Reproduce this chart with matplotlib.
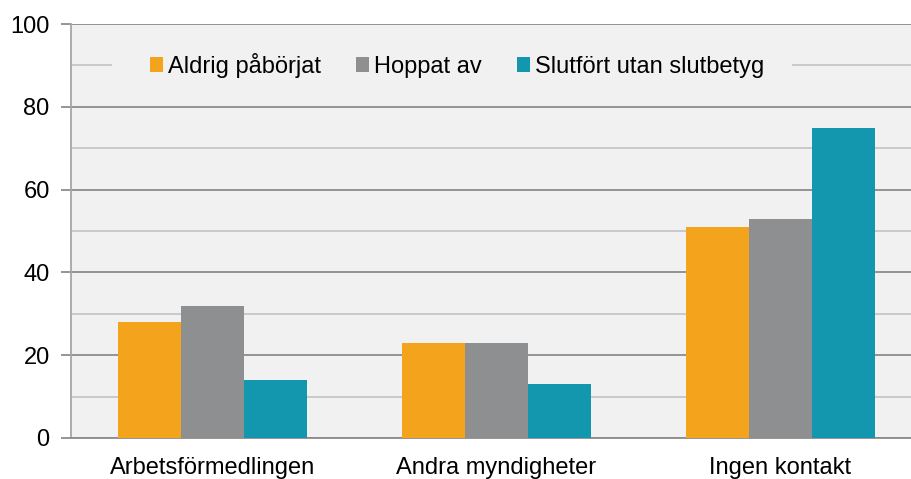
import numpy as np
import matplotlib.pyplot as plt

plt.rcParams['font.family'] = ['Liberation Sans', 'DejaVu Sans']

categories = ['Arbetsförmedlingen', 'Andra myndigheter', 'Ingen kontakt']
series = ['Aldrig påbörjat', 'Hoppat av', 'Slutfört utan slutbetyg']
aldrig = [28, 23, 51]
hoppat = [32, 23, 53]
slutfort = [14, 13, 75]
colors = ['#F4A41C', '#8E8F91', '#1297AF']

W, H = 912, 479
fig = plt.figure(figsize=(W / 100, H / 100), dpi=100)
# the plot area runs a little past the right edge of the picture
ax_left, ax_w = 70.5, 852
ax = fig.add_axes([ax_left / W, 41 / H, ax_w / W, 414 / H])
ax.set_facecolor('#F1F1F1')

x = np.arange(len(categories))
w = 0.222
for i, (vals, name) in enumerate(zip([aldrig, hoppat, slutfort], series)):
    ax.bar(x + (i - 1) * w, vals, w, color=colors[i], label=name, zorder=3)

ax.set_xlim(-0.5, 2.5)
ax.set_ylim(0, 100)
ax.set_yticks(range(0, 101, 20))
ax.set_yticks(range(10, 80, 20), minor=True)
ax.grid(axis='y', which='major', color='#8C8C8C', linewidth=1.3, zorder=1)
ax.grid(axis='y', which='minor', color='#C6C6C6', linewidth=1.3, zorder=1)
# the 90 line is broken by the legend box
ax.axhline(90, xmin=0, xmax=(111 - ax_left) / ax_w, color='#C6C6C6', linewidth=1.3, zorder=1)
ax.axhline(90, xmin=(793 - ax_left) / ax_w, xmax=1, color='#C6C6C6', linewidth=1.3, zorder=1)

ax.tick_params(axis='y', which='major', length=7, width=1.3, color='#8C8C8C', labelsize=17, pad=8)
ax.tick_params(axis='y', which='minor', length=0)
ax.tick_params(axis='x', length=0, labelsize=17, pad=14)
ax.set_xticks(x)
ax.set_xticklabels(categories)

for s in ['top', 'right']:
    ax.spines[s].set_visible(False)
ax.spines['left'].set_color('#A6A6A6')
ax.spines['left'].set_linewidth(1.3)
ax.spines['bottom'].set_color('#8C8C8C')
ax.spines['bottom'].set_linewidth(1.3)

leg = ax.legend(loc='center', bbox_to_anchor=((457 - ax_left) / ax_w, 0.9), ncol=3,
                frameon=False, fontsize=17, handlelength=0.55, handleheight=0.55,
                handletextpad=0.21, columnspacing=1.48, borderpad=0.3, borderaxespad=0)
leg.set_zorder(5)

fig.savefig('out.png', dpi=100)
